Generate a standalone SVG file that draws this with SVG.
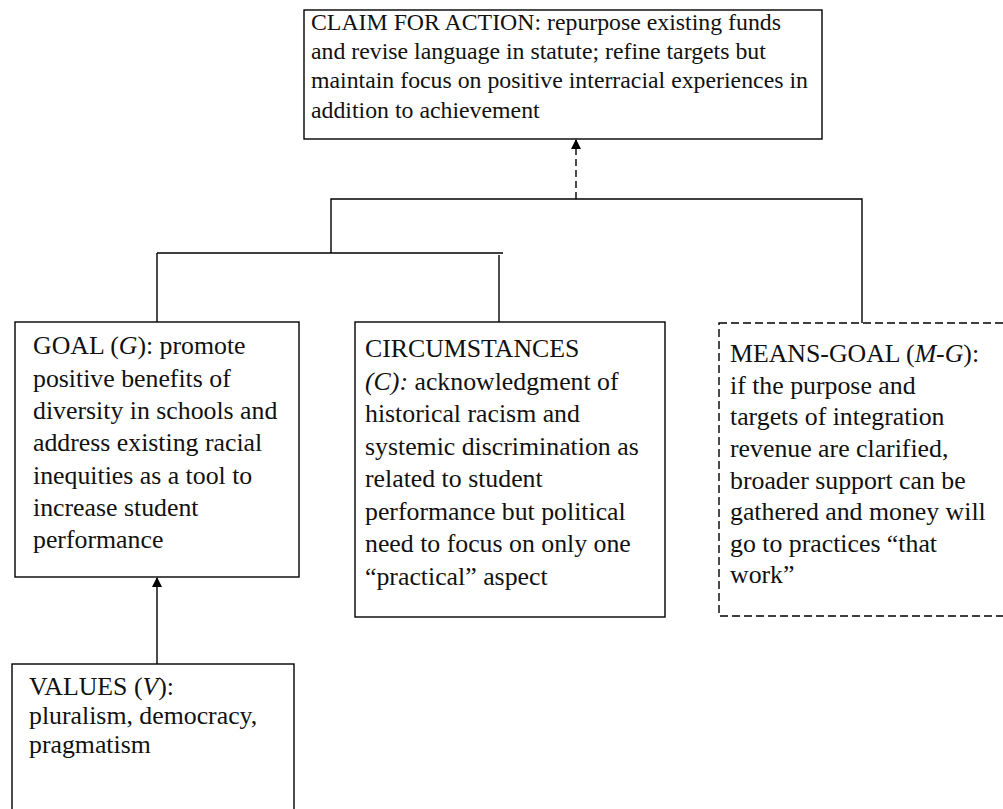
<svg xmlns="http://www.w3.org/2000/svg" width="1003" height="809" viewBox="0 0 1003 809">
<style>
.box{fill:#fff;stroke:#000;stroke-width:1.4}
.dbox{fill:#fff;stroke:#000;stroke-width:1.4;stroke-dasharray:8 4}
.ln{fill:none;stroke:#000;stroke-width:1.4}
.dln{fill:none;stroke:#000;stroke-width:1.4;stroke-dasharray:7 4}
text{font-family:"Liberation Serif","Times New Roman",serif;fill:#111}
.t1{font-size:23.8px}
.t2{font-size:25.8px}
</style>
<defs>
<marker id="ah" markerWidth="10" markerHeight="10" refX="9" refY="5" orient="auto" markerUnits="userSpaceOnUse">
<path d="M0,0 L10,5 L0,10 z" fill="#000"/>
</marker>
</defs>
<rect width="1003" height="809" fill="#fff"/>
<g id="connectors">
<line class="dln" x1="576" y1="199" x2="576" y2="140" marker-end="url(#ah)"/>
<polyline class="ln" points="331,253 331,199 862,199 862,323"/>
<line class="ln" x1="157" y1="253" x2="503" y2="253"/>
<line class="ln" x1="157" y1="253" x2="157" y2="322"/>
<line class="ln" x1="499" y1="255" x2="499" y2="322"/>
<line class="ln" x1="157" y1="664" x2="157" y2="578" marker-end="url(#ah)"/>
</g>
<g id="claim">
<rect class="box" x="304" y="10" width="518" height="129"/>
<text class="t1"><tspan x="311" y="30">CLAIM FOR ACTION: repurpose existing funds</tspan><tspan x="311" y="59">and revise language in statute; refine targets but</tspan><tspan x="311" y="88">maintain focus on positive interracial experiences in</tspan><tspan x="311" y="118">addition to achievement</tspan></text>
</g>
<g id="goal">
<rect class="box" x="15" y="322" width="284" height="255"/>
<text class="t2"><tspan x="33" y="354">GOAL (<tspan font-style="italic">G</tspan>): promote</tspan><tspan x="33" y="386.5">positive benefits of</tspan><tspan x="33" y="419">diversity in schools and</tspan><tspan x="33" y="451">address existing racial</tspan><tspan x="33" y="483.5">inequities as a tool to</tspan><tspan x="33" y="516">increase student</tspan><tspan x="33" y="548">performance</tspan></text>
</g>
<g id="circumstances">
<rect class="box" x="355" y="322" width="310" height="295"/>
<text class="t2"><tspan x="365" y="357">CIRCUMSTANCES</tspan><tspan x="365" y="389.5"><tspan font-style="italic">(C):</tspan> acknowledgment of</tspan><tspan x="365" y="422">historical racism and</tspan><tspan x="365" y="454.5">systemic discrimination as</tspan><tspan x="365" y="487">related to student</tspan><tspan x="365" y="519.5">performance but political</tspan><tspan x="365" y="552">need to focus on only one</tspan><tspan x="365" y="584.5">“practical” aspect</tspan></text>
</g>
<g id="means-goal">
<rect class="dbox" x="719" y="323" width="290" height="293"/>
<text class="t2"><tspan x="730" y="362">MEANS-GOAL (<tspan font-style="italic">M-G</tspan>):</tspan><tspan x="730" y="393.5">if the purpose and</tspan><tspan x="730" y="425">targets of integration</tspan><tspan x="730" y="457">revenue are clarified,</tspan><tspan x="730" y="488.5">broader support can be</tspan><tspan x="730" y="520">gathered and money will</tspan><tspan x="730" y="551.5">go to practices “that</tspan><tspan x="730" y="583">work”</tspan></text>
</g>
<g id="values">
<rect class="box" x="12" y="664" width="282" height="160"/>
<text class="t2"><tspan x="29" y="695">VALUES (<tspan font-style="italic">V</tspan>):</tspan><tspan x="29" y="724">pluralism, democracy,</tspan><tspan x="29" y="753">pragmatism</tspan></text>
</g>
</svg>
